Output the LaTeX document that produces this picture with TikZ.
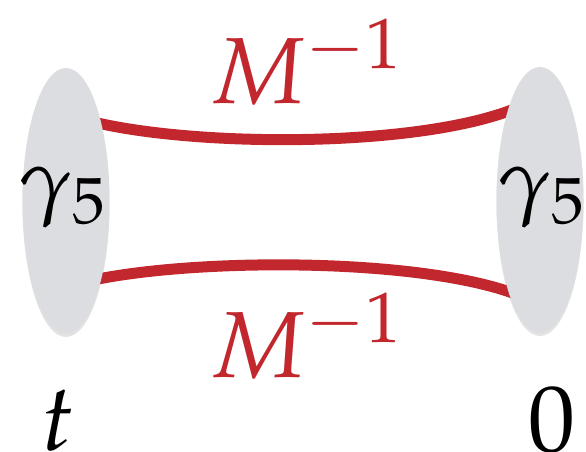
\documentclass[tikz,border=0pt]{standalone}
\usepackage{mathpazo}
\usetikzlibrary{shapes.geometric,shadows}
\pgfdeclarelayer{back}
\pgfsetlayers{back,main}
\definecolor{ellgray}{RGB}{220,221,224}
\definecolor{propred}{RGB}{193,39,45}
\begin{document}
\begin{tikzpicture}[x=1pt,y=-1pt,
  blob/.style={ellipse,fill=ellgray,draw=none,minimum width=87pt,minimum height=266pt,inner sep=0pt,
    drop shadow={opacity=0.22,shadow xshift=0pt,shadow yshift=-3pt}},
  prop/.style={draw=propred,line width=11pt},
  lab/.style={inner sep=0pt,font=\fontsize{94}{94}\selectfont},
  redlab/.style={lab,text=propred,anchor=base west},
  gam/.style={inner sep=0pt,font=\fontsize{86}{86}\selectfont}]
\useasboundingbox (0,0) rectangle (586,452);
\node[blob] (L) at (66,201) {};
\node[blob] (R) at (540,200) {};
\node[gam] (gL) at (62,197) {$\gamma_5$};
\node[gam] (gR) at (541,197) {$\gamma_5$};
\begin{pgfonlayer}{back}
\draw[prop] ([xshift=-8pt]L.66) .. controls (200,147.5) and (420,147.5) .. ([xshift=8pt]R.109);
\draw[prop] ([xshift=-8pt]L.-66) .. controls (200,257.8) and (420,257.8) .. ([xshift=8pt]R.-108);
\end{pgfonlayer}
\node[redlab] (mt) at (210,103) {$M^{-1}$};
\node[redlab] (mb) at (210,377) {$M^{-1}$};
\node[lab,anchor=base west] (t) at (41,450) {$t$};
\node[lab,anchor=base west] (z) at (528,451) {$0$};
\end{tikzpicture}
\end{document}
